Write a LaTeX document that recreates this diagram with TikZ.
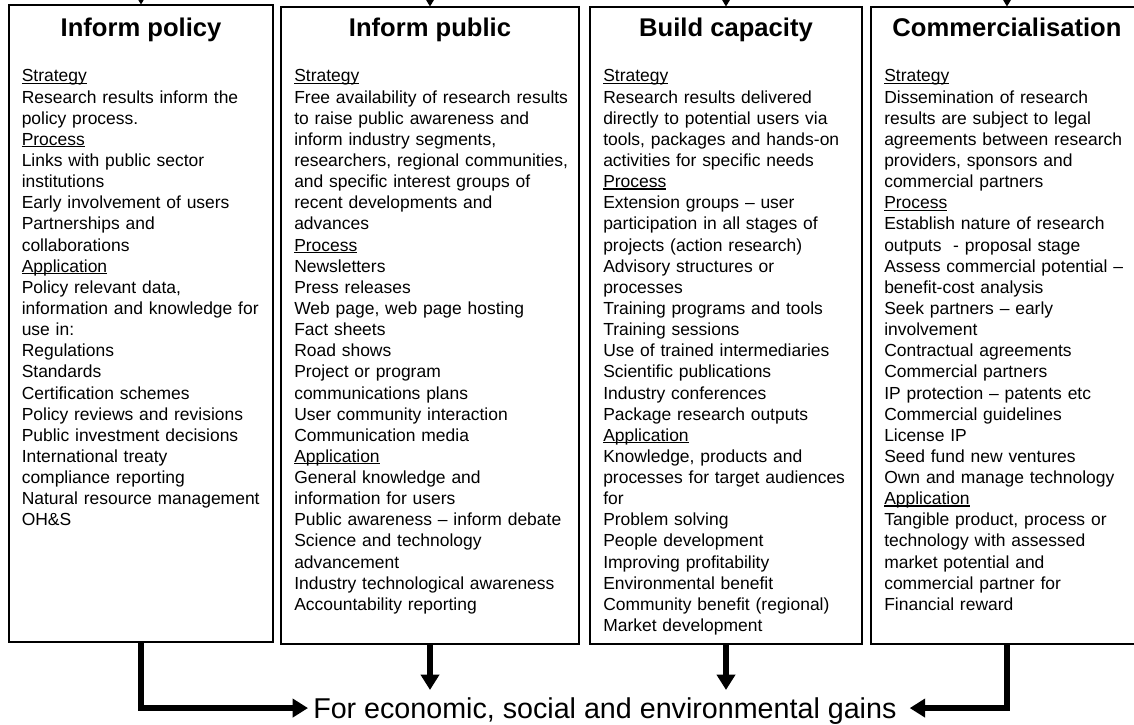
\documentclass[tikz,border=0pt]{standalone}
\usepackage{fontspec}
\setmainfont{Liberation Sans}
\usetikzlibrary{arrows.meta,fit}
% underlined section word, the rule sits just under the baseline
\newcommand{\subhead}[1]{\leavevmode\setbox0\hbox{#1}\rlap{\rule[-1.4pt]{\wd0}{0.8pt}}\box0}

\begin{document}
\begin{tikzpicture}[x=0.75pt, y=-0.75pt, line join=miter,
	frame/.style={draw, line width=0.8pt, inner sep=0pt},
	heading/.style={anchor=base, inner sep=0pt, font=\bfseries\fontsize{19.2}{23}\selectfont},
	body/.style={anchor=base west, inner sep=0pt, text width=230pt, align=left, font=\fontsize{13.1}{15.85}\selectfont},
	feed/.style={line width=0.75pt, -{Triangle[length=4.8pt,width=5.6pt]}},
	flow/.style={line width=4.5pt, -{Triangle[length=11.5pt,width=13.5pt]}},
	goal/.style={inner xsep=3.75pt, inner ysep=5.25pt, font=\fontsize{21.5}{26}\selectfont}]
	\useasboundingbox (0,0) rectangle (1134,724);
	% the four frames, the last one runs past the right edge
	\node[frame, fit={(9,5) (273,642)}] (policy) {};
	\node[frame, fit={(281,7) (579,644)}] (public) {};
	\node[frame, fit={(590,7) (862,644)}] (capacity) {};
	\node[frame, fit={(871,7) (1143,644)}] (commerce) {};
	% headings
	\node[heading] (policyhead) at (policy.north |- 0,37) {Inform policy};
	\node[heading] (publichead) at (public.north |- 0,37) {Inform public};
	\node[heading] (capacityhead) at (capacity.north |- 0,37) {Build capacity};
	\node[heading] (commercehead) at (commerce.north |- 0,37) {Commercialisation};
	% contents
	\node[body] (policytext) at (21.5,82) {\subhead{Strategy}\\
		Research results inform the\\
		policy process.\\
		\subhead{Process}\\
		Links with public sector\\
		institutions\\
		Early involvement of users\\
		Partnerships and\\
		collaborations\\
		\subhead{Application}\\
		Policy relevant data,\\
		information and knowledge for\\
		use in:\\
		Regulations\\
		Standards\\
		Certification schemes\\
		Policy reviews and revisions\\
		Public investment decisions\\
		International treaty\\
		compliance reporting\\
		Natural resource management\\
		OH\&S};
	\node[body] (publictext) at (294,82) {\subhead{Strategy}\\
		Free availability of research results\\
		to raise public awareness and\\
		inform\ industry segments,\\
		researchers, regional communities,\\
		and specific interest groups of\\
		recent developments and\\
		advances\\
		\subhead{Process}\\
		Newsletters\\
		Press releases\\
		Web page, web page hosting\\
		Fact sheets\\
		Road shows\\
		Project or program\\
		communications plans\\
		User community interaction\\
		Communication media\\
		\subhead{Application}\\
		General knowledge and\\
		information for users\\
		Public awareness – inform debate\\
		Science and technology\\
		advancement\\
		Industry technological awareness\\
		Accountability reporting};
	\node[body] (capacitytext) at (603,82) {\subhead{Strategy}\\
		Research results delivered\\
		directly to potential users via\\
		tools, packages and hands-on\\
		activities for specific needs\\
		\subhead{Process}\\
		Extension groups – user\\
		participation in all stages of\\
		projects (action research)\\
		Advisory structures or\\
		processes\\
		Training programs and tools\\
		Training sessions\\
		Use of trained intermediaries\\
		Scientific publications\\
		Industry conferences\\
		Package research outputs\\
		\subhead{Application}\\
		Knowledge, products and\\
		processes for target audiences\\
		for\\
		Problem solving\\
		People development\\
		Improving profitability\\
		Environmental benefit\\
		Community benefit (regional)\\
		Market development};
	\node[body] (commercetext) at (884,82) {\subhead{Strategy}\\
		Dissemination of research\\
		results are subject to legal\\
		agreements between research\\
		providers, sponsors and\\
		commercial partners\\
		\subhead{Process}\\
		Establish nature of research\\
		outputs\ \ - proposal stage\\
		Assess commercial potential –\\
		benefit-cost analysis\\
		Seek partners – early\\
		involvement\\
		Contractual agreements\\
		Commercial partners\\
		IP protection – patents etc\\
		Commercial guidelines\\
		License IP\\
		Seed fund new ventures\\
		Own and manage technology\\
		\subhead{Application}\\
		Tangible product, process or\\
		technology with assessed\\
		market potential and\\
		commercial partner for\\
		Financial reward};
	% incoming lines from above
	\coordinate (policyin) at (141,-20);
	\coordinate (publicin) at (430,-20);
	\coordinate (capacityin) at (726,-20);
	\coordinate (commercein) at (1007,-20);
	\draw[feed] (policyin) -- (policy.north);
	\draw[feed] (publicin) -- (public.north);
	\draw[feed] (capacityin) -- (capacity.north);
	\draw[feed] (commercein) -- (commerce.north);
	% common outcome
	\node[goal, anchor=base west] (gains) at (308,718) {For economic, social and environmental gains};
	\draw[flow] (policy.south) |- ([yshift=1.9pt]gains.west);
	\draw[flow] (public.south) -- (public.south |- gains.north);
	\draw[flow] (capacity.south) -- (capacity.south |- gains.north);
	\draw[flow] (commerce.south) |- ([xshift=6pt,yshift=1.9pt]gains.east);
\end{tikzpicture}
\end{document}
